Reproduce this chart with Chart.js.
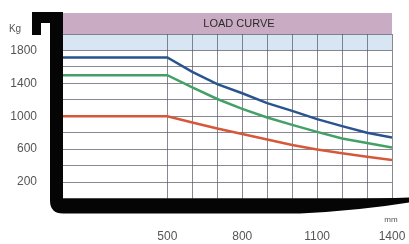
<!DOCTYPE html>
<html>
<head>
<meta charset="utf-8">
<script src="https://cdn.jsdelivr.net/npm/chart.js@4"></script>
<style>
html,body{margin:0;padding:0;background:#fff;}
#wrap{width:409px;height:244px;}
</style>
</head>
<body>
<div id="wrap"><canvas id="c" width="409" height="244"></canvas></div>
<script>
// ---- data ----
const loadCentres = [82, 500, 600, 700, 800, 900, 1000, 1100, 1200, 1300, 1400]; // mm
const curveBlue  = [1715, 1715, 1540, 1390, 1280, 1160, 1065, 965, 880, 800, 740];
const curveGreen = [1500, 1500, 1350, 1210, 1090, 985, 895, 810, 730, 675, 620];
const curveRed   = [1000, 1000, 925, 850, 785, 718, 650, 595, 550, 508, 468];
const xGridTicks = [500, 600, 700, 800, 900, 1000, 1100, 1200, 1300, 1400];
const xTickLabels = [500, 800, 1100, 1400];
const yTickLabels = [200, 600, 1000, 1400, 1800];
const titleText = 'LOAD CURVE';
const yUnit = 'Kg';
const xUnit = 'mm';

const toPts = arr => arr.map((v, i) => ({x: loadCentres[i], y: v}));

const decor = {
  id: 'decor',
  beforeDraw(chart) {
    const {ctx, chartArea: a, scales: {y}} = chart;
    ctx.save();
    ctx.fillStyle = '#fff';
    ctx.fillRect(0, 0, chart.width, chart.height);
    const yTop = y.getPixelForValue(2000), yB = y.getPixelForValue(1800);
    ctx.fillStyle = '#d8e6f4';
    ctx.fillRect(a.left, yTop, a.right - a.left, yB - yTop);
    ctx.fillStyle = '#c9acc3';
    ctx.fillRect(a.left, 13, a.right - a.left, yTop - 13);
    ctx.restore();
  },
  afterDraw(chart) {
    const {ctx, chartArea: a} = chart;
    ctx.save();
    // fork shape
    ctx.fillStyle = '#050505';
    ctx.beginPath();
    ctx.moveTo(32, 12);
    ctx.lineTo(a.left, 12);
    ctx.lineTo(a.left, a.bottom);
    ctx.lineTo(330, a.bottom);
    ctx.quadraticCurveTo(385, a.bottom, 409, a.bottom - 1);
    ctx.lineTo(409, a.bottom + 4);
    ctx.quadraticCurveTo(360, a.bottom + 12, 300, a.bottom + 15);
    ctx.lineTo(63, a.bottom + 15);
    ctx.quadraticCurveTo(50, a.bottom + 15, 50, a.bottom + 2);
    ctx.lineTo(50, 23);
    ctx.lineTo(41, 23);
    ctx.lineTo(41, 35);
    ctx.lineTo(32, 35);
    ctx.closePath();
    ctx.fill();
    // texts
    ctx.fillStyle = '#2a2a2a';
    ctx.font = '11px "Liberation Sans", Arial, sans-serif';
    ctx.textAlign = 'center';
    ctx.textBaseline = 'middle';
    ctx.fillText(titleText, 239, 24);
    ctx.fillStyle = '#555';
    ctx.font = '10px "Liberation Sans", Arial, sans-serif';
    ctx.fillText(yUnit, 15, 29);
    ctx.font = '8px "Liberation Sans", Arial, sans-serif';
    ctx.fillText(xUnit, 391, 220);
    ctx.restore();
  }
};

const gridColor = 'rgba(85,85,100,0.7)';

new Chart(document.getElementById('c'), {
  type: 'line',
  data: {
    datasets: [
      {data: toPts(curveBlue), borderColor: '#2a548f', borderWidth: 2.5},
      {data: toPts(curveGreen), borderColor: '#43a067', borderWidth: 2.5},
      {data: toPts(curveRed), borderColor: '#d5583a', borderWidth: 2.5}
    ]
  },
  options: {
    responsive: false,
    animation: false,
    devicePixelRatio: 1,
    layout: {padding: {top: 34, right: 17, bottom: 0, left: 0}},
    elements: {point: {radius: 0}, line: {tension: 0, fill: false}},
    plugins: {legend: {display: false}, tooltip: {enabled: false}, title: {display: false}},
    scales: {
      x: {
        type: 'linear',
        min: loadCentres[0],
        max: 1400,
        afterBuildTicks: s => { s.ticks = xGridTicks.map(v => ({value: v})); },
        afterFit: s => { s.height = 45.5; s.paddingRight = 0; s.paddingLeft = 0; },
        grid: {color: gridColor, lineWidth: 1, drawTicks: false},
        border: {display: false},
        ticks: {
          padding: 31,
          color: '#555',
          font: {size: 12, family: '"Liberation Sans", Arial, sans-serif'},
          maxRotation: 0,
          autoSkip: false,
          callback: v => xTickLabels.includes(v) ? String(v) : ''
        }
      },
      y: {
        min: 0,
        max: 2000,
        afterFit: s => { s.width = 63; s.paddingTop = 0; s.paddingBottom = 0; },
        grid: {color: gridColor, lineWidth: 1, drawTicks: false},
        border: {display: false},
        ticks: {
          stepSize: 200,
          padding: 26,
          color: '#555',
          font: {size: 12, family: '"Liberation Sans", Arial, sans-serif'},
          autoSkip: false,
          callback: v => yTickLabels.includes(v) ? String(v) : ''
        }
      }
    }
  },
  plugins: [decor]
});
</script>
</body>
</html>
